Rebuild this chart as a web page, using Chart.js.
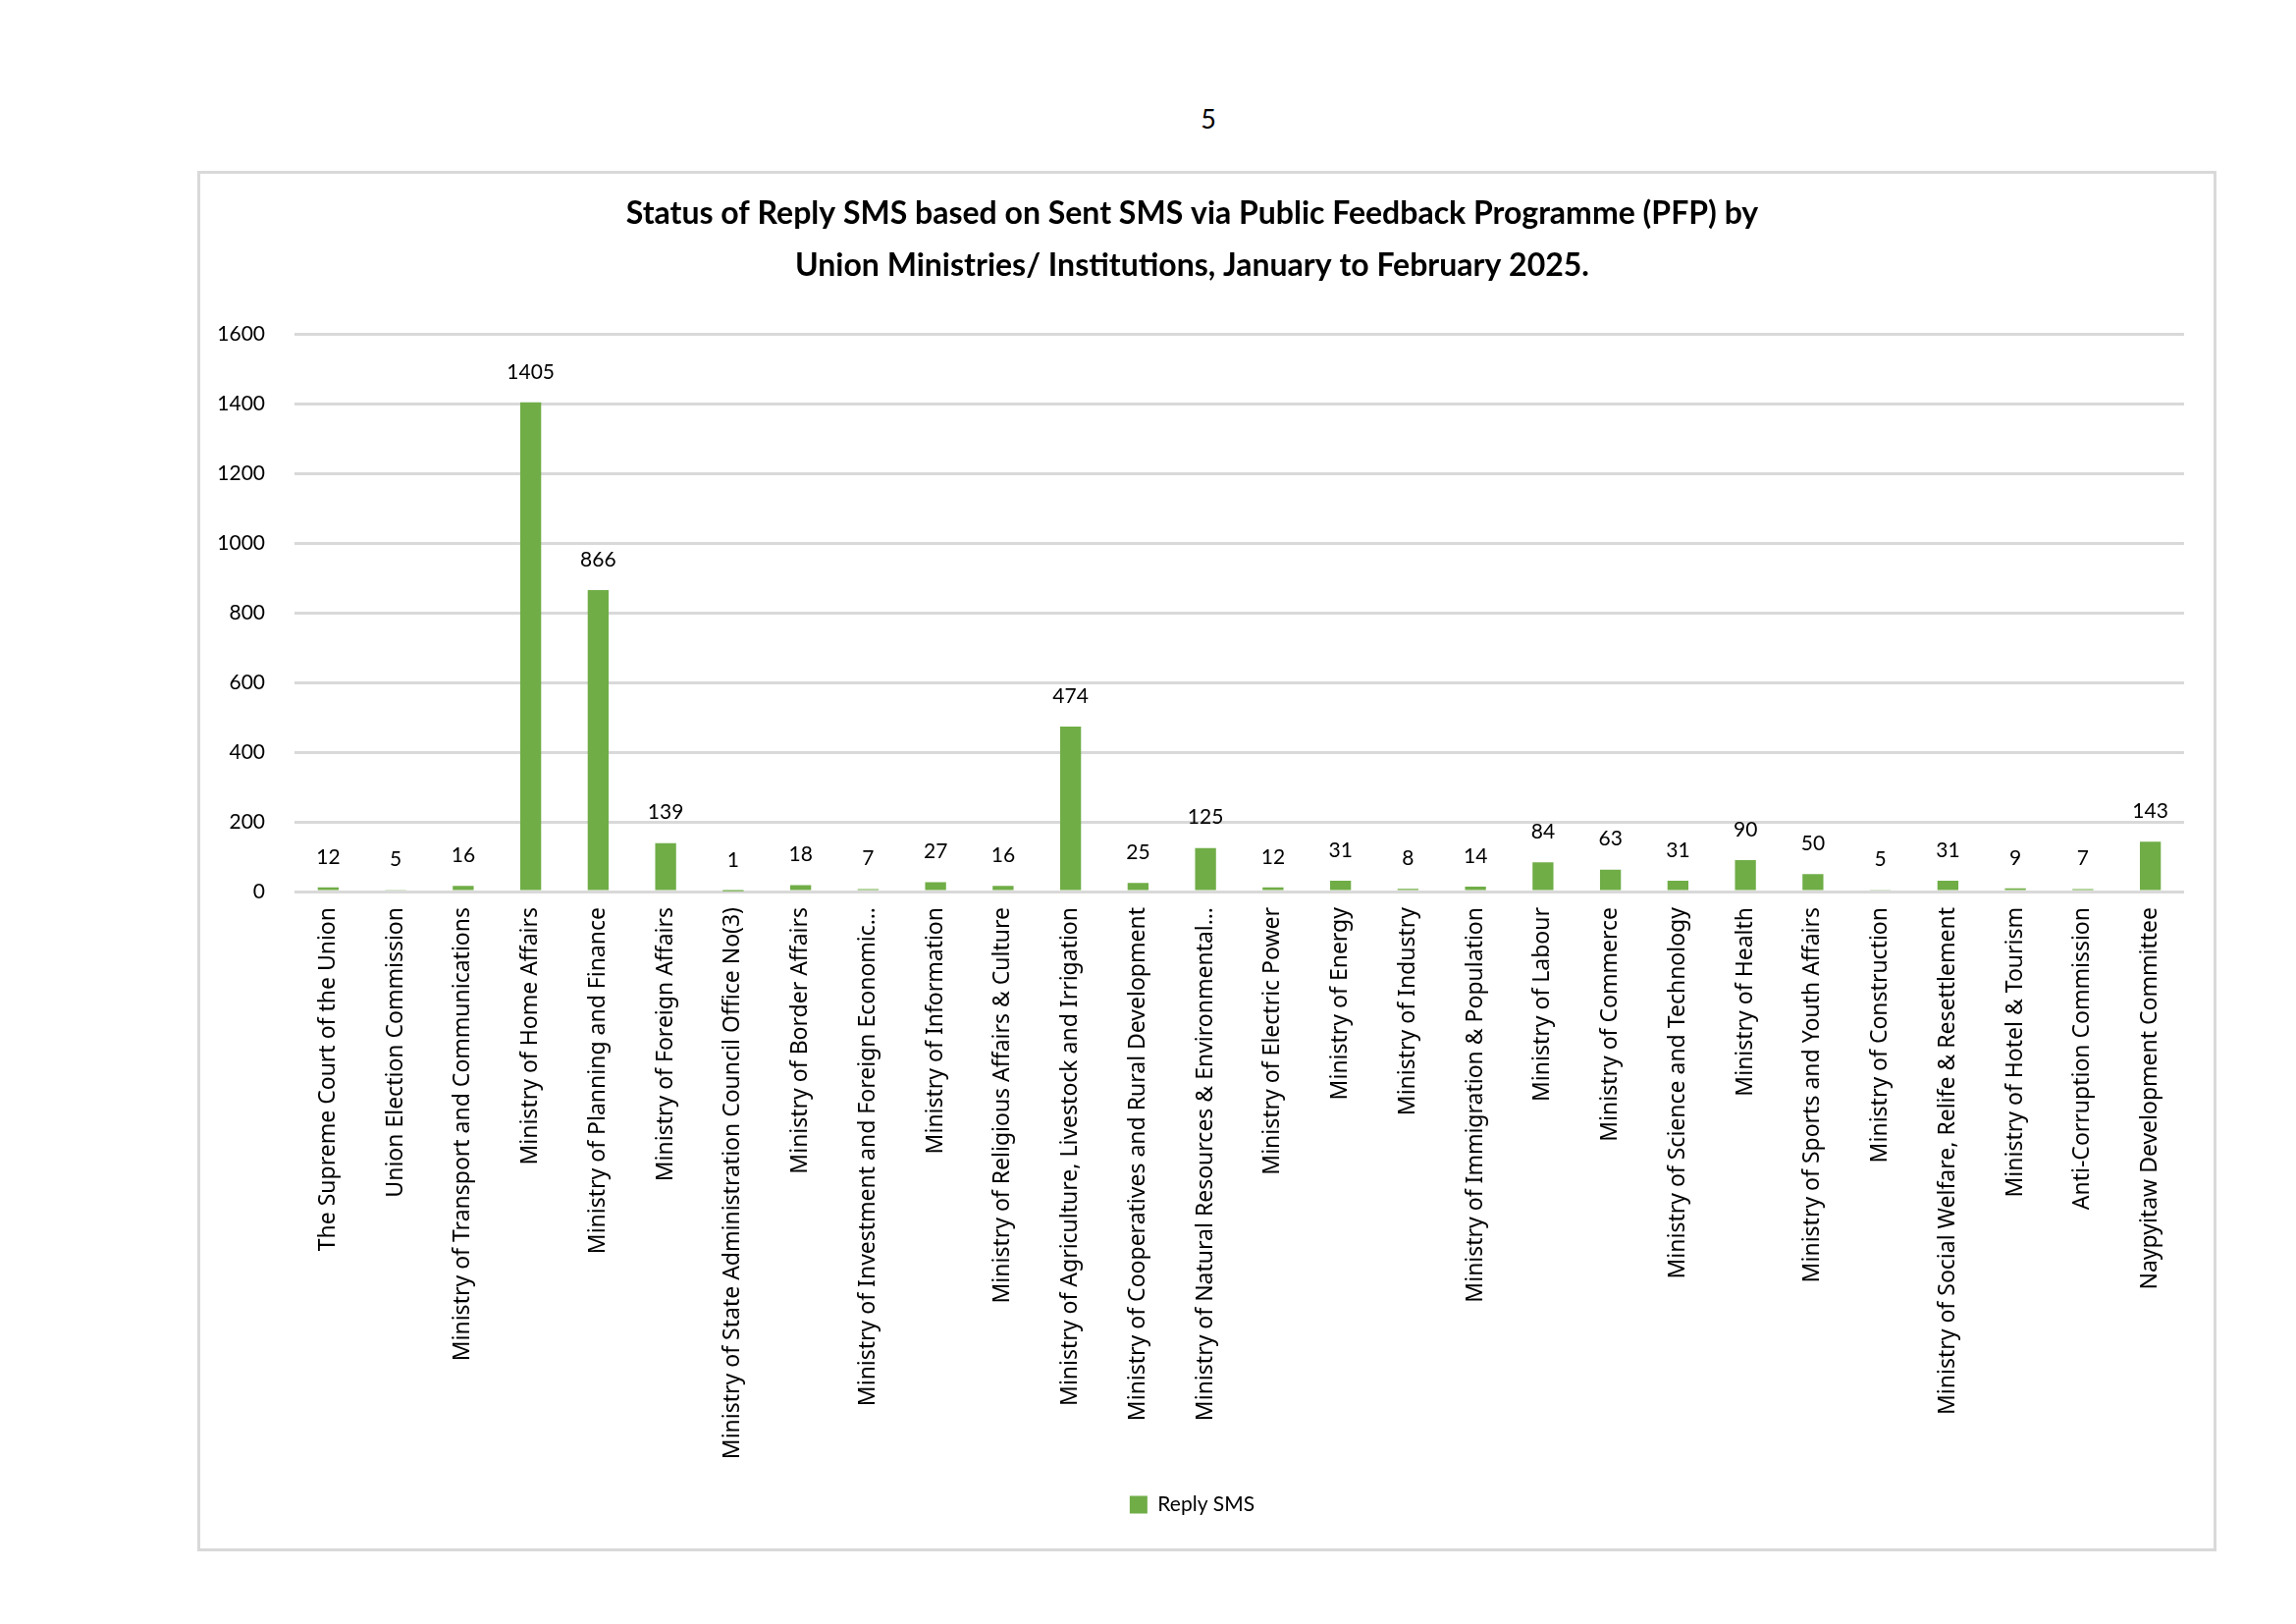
<!DOCTYPE html>
<html>
<head>
<meta charset="utf-8">
<script src="https://cdn.jsdelivr.net/npm/chart.js@4.4.1/dist/chart.umd.min.js"></script>
<style>
  html, body { margin: 0; padding: 0; background: #fff; }
  body { width: 2339px; height: 1654px; position: relative; overflow: hidden; }
  #pageNo { position: absolute; left: 0; width: 2462px; top: 104px; text-align: center;
    font-family: Lato, "Noto Sans", sans-serif; font-size: 27px; color: #000; }
  #box { position: absolute; left: 201px; top: 174px; width: 2057px; height: 1406px;
    border: 3px solid #d9d9d9; box-sizing: border-box; }
  #box canvas { position: absolute; left: 0; top: 0; }
</style>
</head>
<body>
<div id="pageNo">5</div>
<div id="box"><canvas id="replyChart"></canvas></div>
<script>
// categories (x axis), as printed under the bars
var ministries = [
  'The Supreme Court of the Union',
  'Union Election Commission',
  'Ministry of Transport and Communications',
  'Ministry of Home Affairs',
  'Ministry of Planning and Finance',
  'Ministry of Foreign Affairs',
  'Ministry of State Administration Council Office No(3)',
  'Ministry of Border Affairs',
  'Ministry of Investment and Foreign Economic…',
  'Ministry of Information',
  'Ministry of Religious Affairs & Culture',
  'Ministry of Agriculture, Livestock and Irrigation',
  'Ministry of Cooperatives and Rural Development',
  'Ministry of Natural Resources & Environmental…',
  'Ministry of Electric Power',
  'Ministry of Energy',
  'Ministry of Industry',
  'Ministry of Immigration & Population',
  'Ministry of Labour',
  'Ministry of Commerce',
  'Ministry of Science and Technology',
  'Ministry of Health',
  'Ministry of Sports and Youth Affairs',
  'Ministry of Construction',
  'Ministry of Social Welfare, Relife & Resettlement',
  'Ministry of Hotel & Tourism',
  'Anti-Corruption Commission',
  'Naypyitaw Development Committee'
];

// Reply SMS counts
var replySms = [12, 5, 16, 1405, 866, 139, 1, 18, 7, 27, 16, 474, 25, 125,
  12, 31, 8, 14, 84, 63, 31, 90, 50, 5, 31, 9, 7, 143];

// y axis ticks
var yTicks = [0, 200, 400, 600, 800, 1000, 1200, 1400, 1600];

var titleLines = [
  'Status of Reply SMS based on Sent SMS via Public Feedback Programme (PFP) by',
  'Union Ministries/ Institutions, January to February 2025.'
];

var labelFont = 'Lato, sans-serif';
var catFont = '"Noto Sans", sans-serif';

// little plugin to write the value above each bar (no datalabels plugin offline)
var valueLabels = {
  id: 'valueLabels',
  afterDatasetsDraw: function(chart) {
    var ctx = chart.ctx;
    var meta = chart.getDatasetMeta(0);
    ctx.save();
    ctx.font = '21px ' + labelFont;
    ctx.fillStyle = '#000';
    ctx.textAlign = 'center';
    ctx.textBaseline = 'middle';
    meta.data.forEach(function(bar, i) {
      ctx.fillText(replySms[i], bar.x, bar.y - 31);
    });
    ctx.restore();
  }
};

var canvas = document.getElementById('replyChart');
canvas.width = 2051;
canvas.height = 1400;
var ctx = canvas.getContext('2d');

var replyChart = new Chart(ctx, {
  type: 'bar',
  data: {
    labels: ministries,
    datasets: [{
      label: 'Reply SMS',
      data: replySms,
      backgroundColor: '#70ad47',
      borderWidth: 0,
      categoryPercentage: 1.0,
      barPercentage: 0.31
    }]
  },
  options: {
    responsive: false,
    animation: false,
    devicePixelRatio: 1,
    layout: {
      padding: { left: 0, right: 30, top: 14, bottom: 24 }
    },
    plugins: {
      title: {
        display: true,
        text: titleLines,
        color: '#000',
        font: { family: labelFont, size: 32, weight: 'bold', lineHeight: 1.65 },
        padding: { top: 0, bottom: 44 }
      },
      legend: {
        position: 'bottom',
        labels: {
          color: '#000',
          font: { family: labelFont, size: 21 },
          boxWidth: 18,
          boxHeight: 18,
          padding: 10
        }
      },
      tooltip: { enabled: false }
    },
    scales: {
      x: {
        grid: { display: false, drawTicks: false },
        border: { display: false },
        ticks: {
          autoSkip: false,
          maxRotation: 90,
          minRotation: 90,
          padding: 16,
          color: '#000',
          font: { family: catFont, size: 23 }
        },
        afterFit: function(scale) {
          scale.height = 604;
        }
      },
      y: {
        min: 0,
        max: 1600,
        afterBuildTicks: function(scale) {
          scale.ticks = yTicks.map(function(v) { return { value: v }; });
        },
        grid: { color: '#d9d9d9', lineWidth: 3, drawTicks: false },
        border: { display: false },
        ticks: {
          padding: 30,
          color: '#000',
          font: { family: labelFont, size: 21 },
          callback: function(val) { return String(val); }
        },
        afterFit: function(scale) {
          scale.width = 96;
        }
      }
    }
  },
  plugins: [valueLabels]
});
</script>
</body>
</html>
